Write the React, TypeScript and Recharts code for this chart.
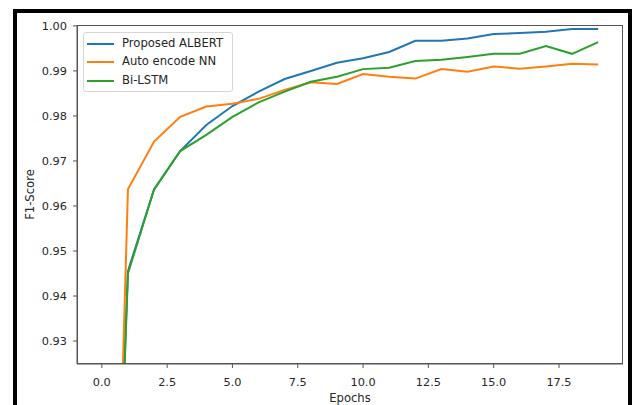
import { LineChart, Line, XAxis, YAxis, Legend } from 'recharts';

const epochs = [0, 1, 2, 3, 4, 5, 6, 7, 8, 9, 10, 11, 12, 13, 14, 15, 16, 17, 18, 19];
const albert = [0.79, 0.9455, 0.9637, 0.9722, 0.978, 0.9822, 0.9854, 0.9882, 0.99, 0.9918, 0.9928, 0.9942, 0.9967, 0.9967, 0.9972, 0.9982, 0.9984, 0.9987, 0.9993, 0.9993];
const autoEncode = [0.76, 0.9637, 0.9743, 0.9798, 0.9821, 0.9827, 0.9838, 0.9858, 0.9875, 0.9871, 0.9893, 0.9887, 0.9883, 0.9904, 0.9898, 0.991, 0.9905, 0.991, 0.9916, 0.9914];
const biLstm = [0.785, 0.945, 0.9637, 0.9722, 0.9758, 0.9798, 0.983, 0.9854, 0.9876, 0.9887, 0.9904, 0.9907, 0.9922, 0.9925, 0.9931, 0.9938, 0.9938, 0.9955, 0.9938, 0.9964];

const seriesNames = ['Proposed ALBERT', 'Auto encode NN', 'Bi-LSTM'];
const xTicks = [0, 2.5, 5, 7.5, 10, 12.5, 15, 17.5];
const yTicks = [0.93, 0.94, 0.95, 0.96, 0.97, 0.98, 0.99, 1.0];

const data = epochs.map((e, i) => ({
  epoch: e,
  albert: albert[i],
  autoEncode: autoEncode[i],
  biLstm: biLstm[i],
}));

const FONT = '"DejaVu Sans", sans-serif';
const TEXT = '#262626';

// eslint-disable-next-line @typescript-eslint/no-explicit-any
function LegendBox({ payload }: any) {
  // keep plotting order, not alphabetical
  const items = [...(payload || [])].sort(
    (a: { value: string }, b: { value: string }) => seriesNames.indexOf(a.value) - seriesNames.indexOf(b.value),
  );
  return (
    <div
      style={{
        width: 150, height: 60, boxSizing: 'border-box', border: '1px solid #d6d6d6',
        borderRadius: 3, background: 'rgba(255,255,255,0.85)', position: 'relative',
        fontFamily: FONT, fontSize: 11.6, color: TEXT,
      }}
    >
      {items.map((p: { color: string; value: string }, i: number) => (
        <div key={p.value} style={{ position: 'absolute', left: 0, top: 1.5 + i * 18.8, height: 18, width: 148 }}>
          <div style={{ position: 'absolute', left: 3, top: 8, width: 27, height: 2, background: p.color }} />
          <span style={{ position: 'absolute', left: 38, top: 1, whiteSpace: 'nowrap' }}>{p.value}</span>
        </div>
      ))}
    </div>
  );
}

// eslint-disable-next-line @typescript-eslint/no-explicit-any
function YLabel({ viewBox }: any) {
  const cy = viewBox.y + viewBox.height / 2;
  return (
    <text x={34} y={cy} transform={`rotate(-90 34 ${cy})`} textAnchor="middle"
      fontFamily={FONT} fontSize={11.6} fill={TEXT}>
      F1-Score
    </text>
  );
}

export default function App() {
  return (
    <div style={{ position: 'fixed', left: 0, top: 0, width: 636, height: 405, overflow: 'hidden', background: '#fff' }}>
      <div style={{ position: 'absolute', left: 13, top: 9, width: 619, height: 600, border: '4px solid #000', boxSizing: 'border-box' }} />
      <LineChart width={636} height={405} data={data} margin={{ top: 25, right: 13, bottom: 0, left: 0 }}>
        <XAxis
          dataKey="epoch" type="number" domain={[-0.95, 19.95]} ticks={xTicks} height={41}
          tickFormatter={(v: number) => v.toFixed(1)} stroke="#555" tickSize={4} tickMargin={10}
          tick={{ fill: TEXT, fontSize: 11.3, fontFamily: FONT }}
          label={{ value: 'Epochs', position: 'insideBottom', offset: 3, fill: TEXT, fontSize: 11.6, fontFamily: FONT }}
        />
        <YAxis
          type="number" domain={[0.9249, 1.0002]} ticks={yTicks} allowDataOverflow width={77}
          tickFormatter={(v: number) => v.toFixed(2)} stroke="#555" tickSize={4} tickMargin={6}
          tick={{ fill: TEXT, fontSize: 11.3, fontFamily: FONT }}
          label={<YLabel />}
        />
        <Legend
          layout="vertical" align="center" verticalAlign="middle" content={<LegendBox />}
          wrapperStyle={{ position: 'absolute', left: 83, top: 32, width: 150, height: 60 }}
        />
        <Line type="linear" dataKey="albert" name={seriesNames[0]} stroke="#1f77b4" strokeWidth={2} dot={false} isAnimationActive={false} />
        <Line type="linear" dataKey="autoEncode" name={seriesNames[1]} stroke="#ff7f0e" strokeWidth={2} dot={false} isAnimationActive={false} />
        <Line type="linear" dataKey="biLstm" name={seriesNames[2]} stroke="#2ca02c" strokeWidth={2} dot={false} isAnimationActive={false} />
      </LineChart>
      <div style={{ position: 'absolute', left: 77, top: 25, width: 546, height: 339, border: '1px solid #555', boxSizing: 'border-box', pointerEvents: 'none', marginLeft: -0.5, marginTop: -0.5 }} />
    </div>
  );
}
